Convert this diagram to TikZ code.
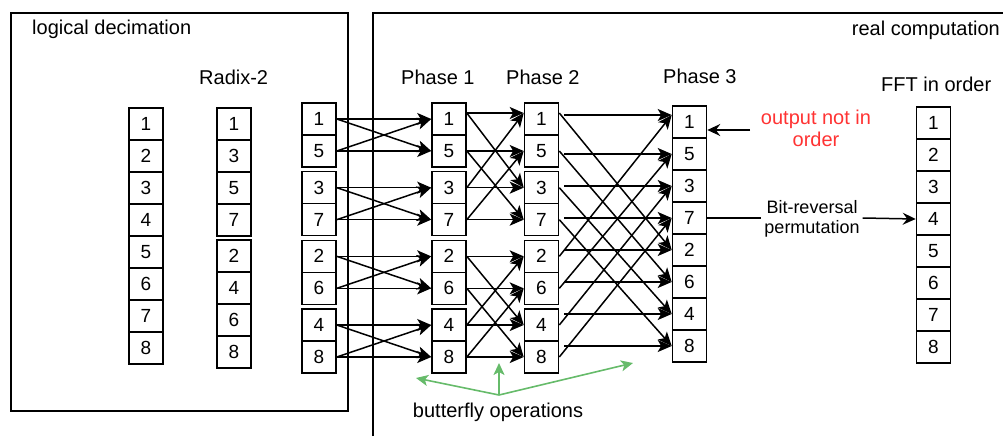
\documentclass[tikz,border=0pt]{standalone}
\usepackage{fontspec}
\setmainfont{Liberation Sans}
\usetikzlibrary{arrows.meta}
\definecolor{redtxt}{RGB}{255,51,51}
\definecolor{grn}{RGB}{102,187,106}
\begin{document}
\begin{tikzpicture}[x=1pt,y=-1pt,
  cell/.style={draw, line width=1.6pt, minimum width=34pt, minimum height=32pt, inner sep=0pt, font=\fontsize{19}{21}\selectfont},
  lbl/.style={font=\fontsize{20}{22}\selectfont, inner sep=0pt},
  frame/.style={line width=1.5pt},
  wire/.style={line width=1.5pt, -{Stealth[length=14pt,width=12pt,inset=3.5pt]}},
  gwire/.style={line width=1.6pt, draw=grn, -{Stealth[length=12pt,width=11pt,inset=3pt]}}]
\useasboundingbox (0,0) rectangle (1003,436);
% frames
\draw[frame] (11,13) rectangle (348,411);
\draw[frame] (373,436) -- (373,13) -- (1003,13);
% labels
\node[lbl, anchor=base west] (ld) at (32,35) {logical decimation};
\node[lbl, anchor=base east] (rc) at (1000,36) {real computation};
\node[lbl, anchor=base west] (rx) at (199,84) {Radix-2};
\node[lbl, anchor=base west] (ph1) at (401,84) {Phase 1};
\node[lbl, anchor=base west] (ph2) at (506,84) {Phase 2};
\node[lbl, anchor=base west] (ph3) at (663,83) {Phase 3};
\node[lbl, anchor=base west] (fft) at (881,91) {FFT in order};
% column 1
\foreach \v [count=\i] in {1,...,8}
  \node[cell] (n\i) at (146,{92+32*\i}) {\v};
% column 2
\foreach \v [count=\i] in {1,3,5,7,2,4,6,8}{
  \pgfmathsetmacro\yy{\i<5 ? 92+32*\i : 96+32*\i}
  \node[cell] (r\i) at (234,\yy) {\v};
}
% pair columns
\foreach \v [count=\i] in {1,5,3,7,2,6,4,8}{
  \pgfmathsetmacro\yy{119+68.67*floor((\i-1)/2)+32*mod(\i-1,2)}
  \node[cell] (c\i) at (319,\yy) {\v};
  \node[cell] (s\i) at (449,\yy) {\v};
  \node[cell] (t\i) at (541.5,\yy) {\v};
  \node[cell] (u\i) at (689.5,{90+32*\i}) {\v};
}
\foreach \v [count=\i] in {1,...,8}
  \node[cell] (f\i) at (933.5,{91+32*\i}) {\v};
% connection points
\foreach \i in {1,...,8}{
  \coordinate (so\i) at (s\i.east);
  \coordinate (ti\i) at (t\i.west);
  \coordinate (to\i) at (t\i.east);
  \coordinate (ui\i) at (u\i.west);
}
\coordinate (so1) at ([yshift=6pt]s1.east);
\coordinate (ti1) at ([yshift=6pt]t1.west);
\coordinate (to1) at ([yshift=6pt]t1.east);
\coordinate (ui1) at ([yshift=7pt]u1.west);
% stage 1
\foreach \i in {1,...,8}{
  \pgfmathtruncatemacro\j{mod(\i,2)==1 ? \i+1 : \i-1}
  \draw[wire] (c\i.east) -- (s\i.west);
  \draw[wire] (c\i.east) -- (s\j.west);
}
% stage 2
\foreach \i in {1,...,8}{
  \pgfmathtruncatemacro\j{mod(\i-1,4)<2 ? \i+2 : \i-2}
  \draw[wire] (so\i) -- (ti\i);
  \draw[wire] (so\i) -- (ti\j);
}
% stage 3
\foreach \i in {1,...,8}{
  \pgfmathtruncatemacro\j{\i<5 ? \i+4 : \i-4}
  \path ([xshift=5pt]t\i.east) coordinate (hs\i);
  \draw[wire] (hs\i |- ui\i) -- (ui\i);
  \draw[wire] (to\i) -- (ui\j);
}
% output note
\node[lbl, text=redtxt, align=center] (note) at (816,128) {output not in\\order};
\coordinate (oa) at (750,130);
\draw[line width=1.5pt, -{Stealth[length=13pt,width=12pt,inset=4.5pt]}] (oa) -- (oa -| u1.east);
% bit reversal
\node[font=\fontsize{18}{19.5}\selectfont, align=center, inner xsep=3pt, inner ysep=0pt] (br) at (812,219) {Bit-reversal\\permutation};
\draw[line width=1.5pt] (u4.east) -- (br.west |- u4.east);
\draw[line width=1.5pt, -{Stealth[length=13pt,width=12pt,inset=4.5pt]}] (br.east |- u4.east) -- (f4.west);
% butterfly operations
\node[lbl, anchor=base] (bo) at (498,417) {butterfly operations};
\coordinate (gj) at (499,395);
\coordinate (gl) at (416,378);
\coordinate (gu) at (499,363);
\coordinate (gr) at (633,363);
\draw[gwire] (gj) -- (gl);
\draw[gwire] (gj) -- (gu);
\draw[gwire] (gj) -- (gr);
\end{tikzpicture}
\end{document}
